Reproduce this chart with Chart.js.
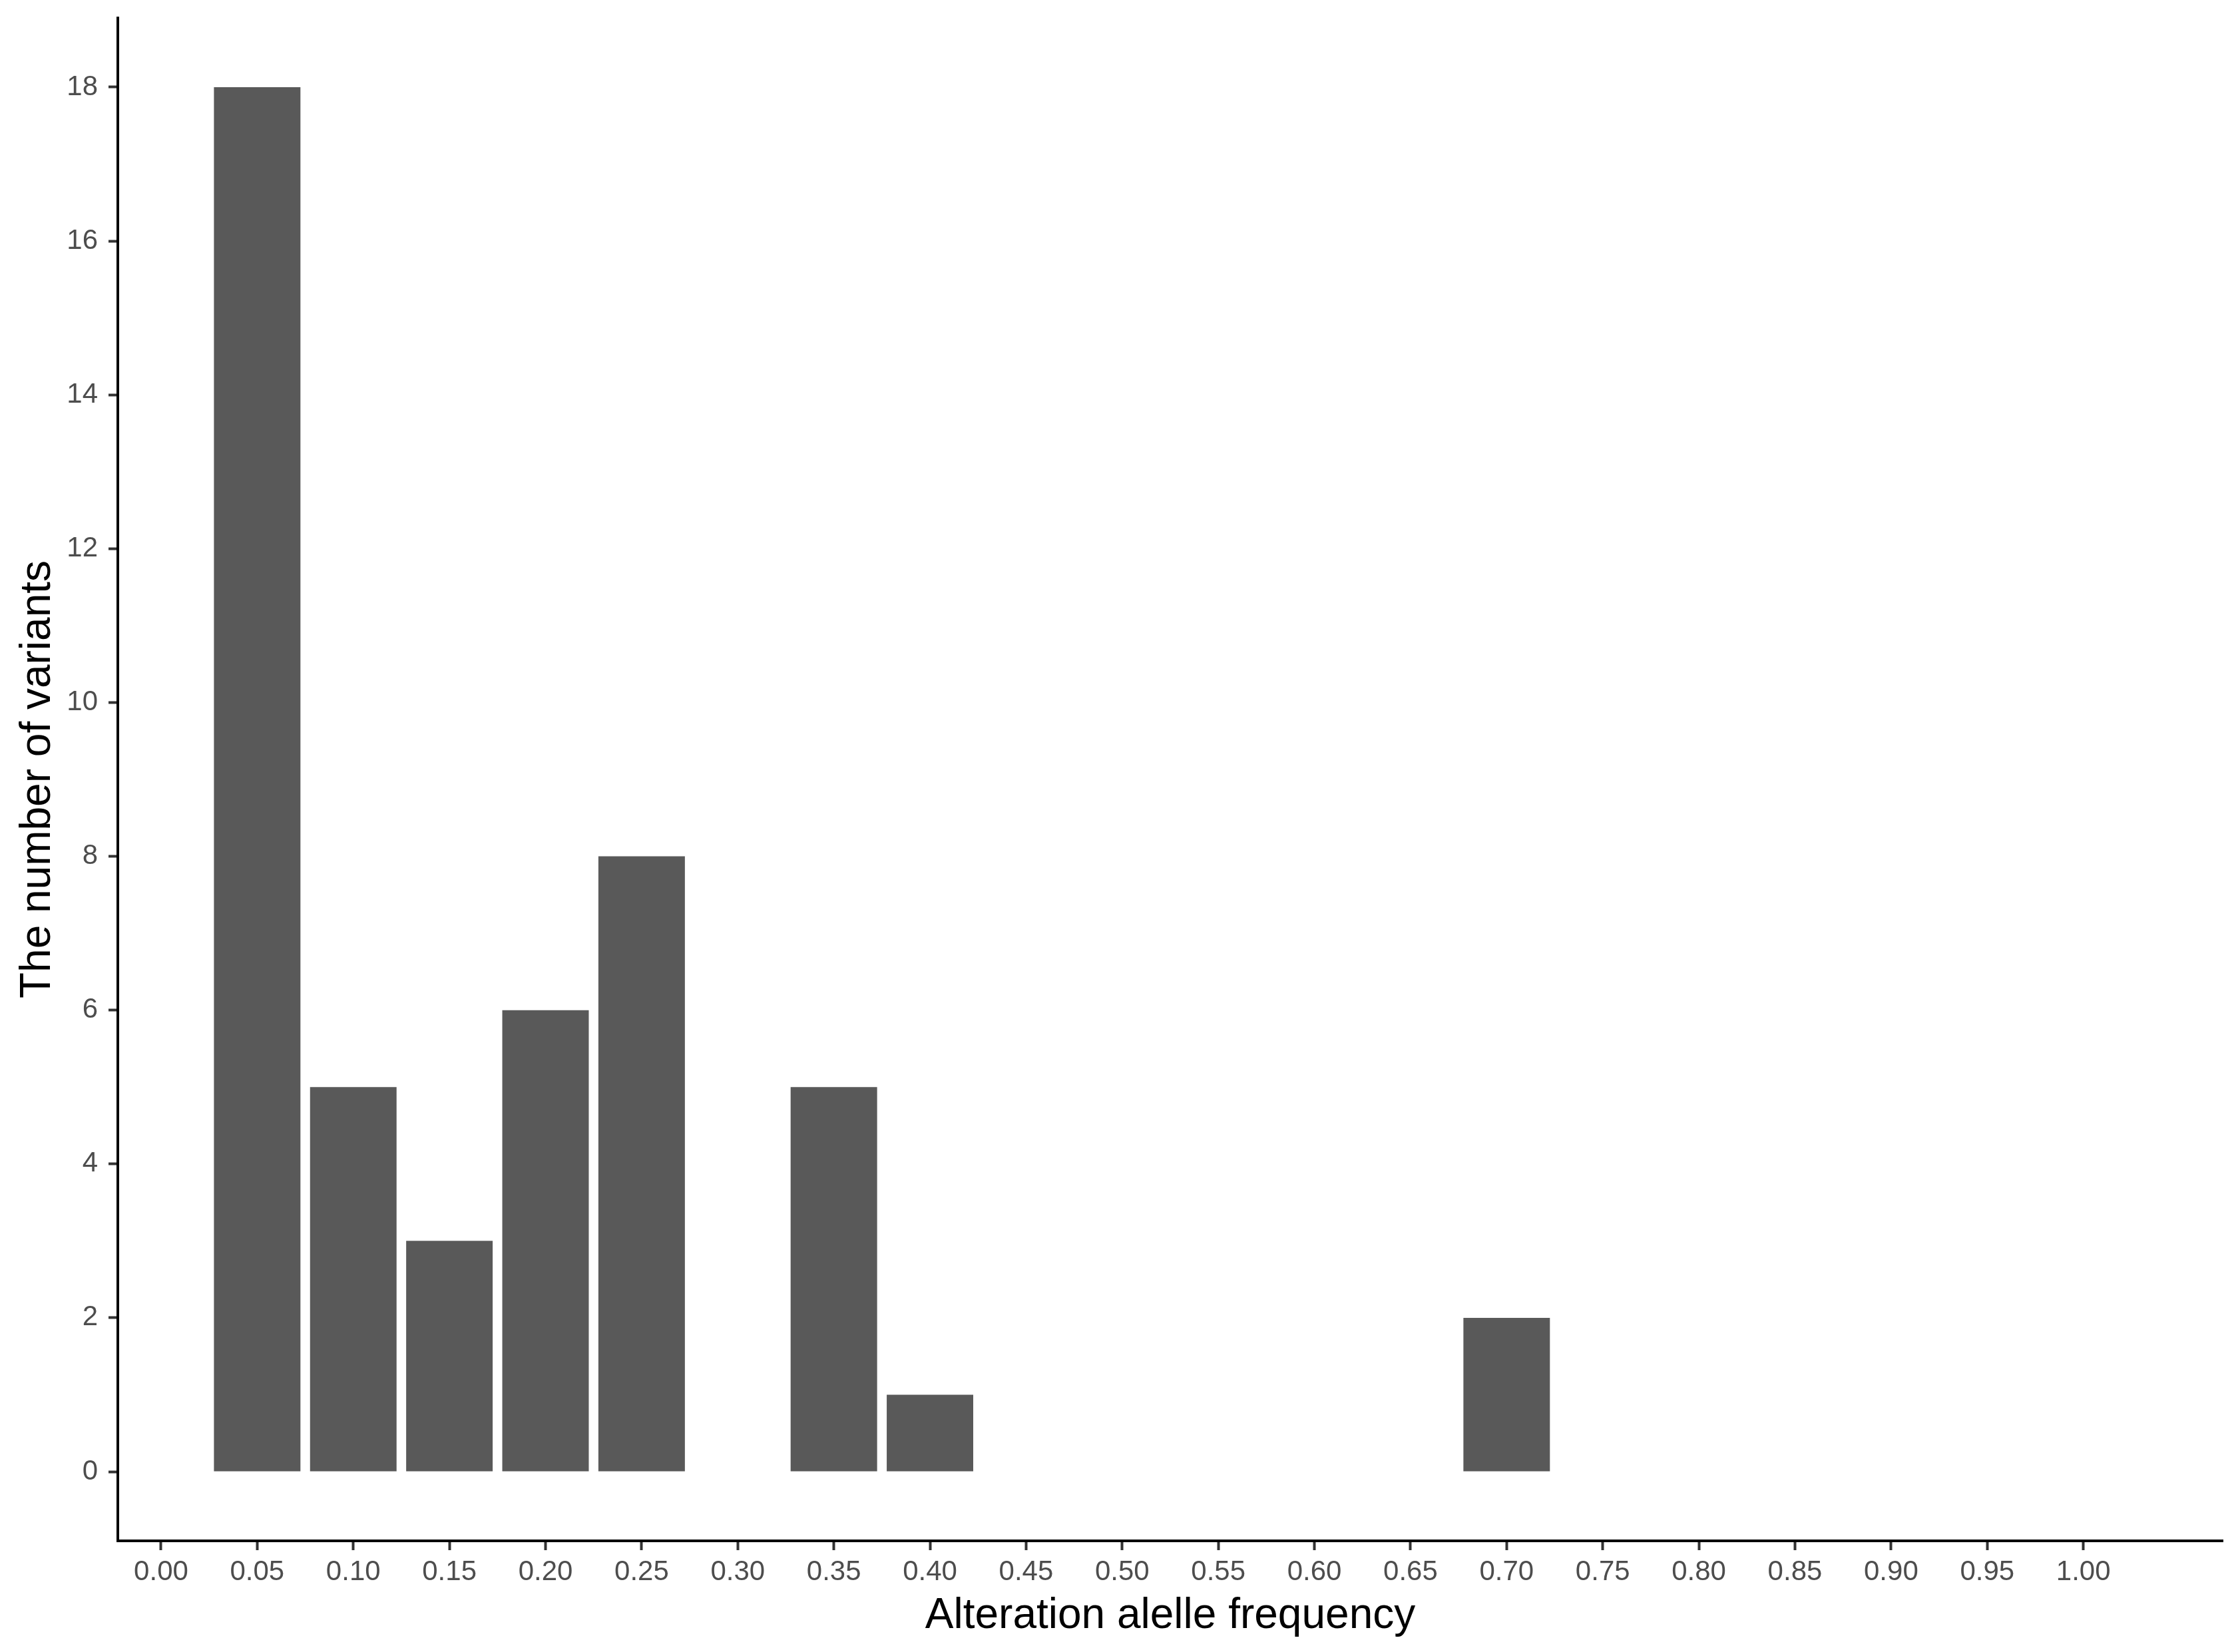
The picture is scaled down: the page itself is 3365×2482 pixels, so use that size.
<!DOCTYPE html>
<html>
<head>
<meta charset="utf-8">
<script src="https://cdn.jsdelivr.net/npm/chart.js@4.4.1/dist/chart.umd.min.js"></script>
<style>
  html, body { margin: 0; padding: 0; background: #fff; }
  #wrap { width: 3365px; height: 2482px; }
</style>
</head>
<body>
<div id="wrap"><canvas id="myChart"></canvas></div>
<script>
// allele frequency bins (bar centres) and counts
const frequencies = [0.05, 0.10, 0.15, 0.20, 0.25, 0.35, 0.40, 0.70];
const counts = [18, 5, 3, 6, 8, 5, 1, 2];
const xTicks = [0, 0.05, 0.1, 0.15, 0.2, 0.25, 0.3, 0.35, 0.4, 0.45, 0.5,
  0.55, 0.6, 0.65, 0.7, 0.75, 0.8, 0.85, 0.9, 0.95, 1];
const yTicks = [0, 2, 4, 6, 8, 10, 12, 14, 16, 18];

const colors = {
  bar: "#595959",
  axis: "#000000",
  tick: "#333333",
  label: "#4d4d4d",
};
const family = "'Liberation Sans', Arial, sans-serif";

const ctx = document.getElementById("myChart");

new Chart(ctx, {
  type: "bar",
  data: {
    datasets: [
      {
        data: frequencies.map((f, i) => ({ x: f, y: counts[i] })),
        backgroundColor: colors.bar,
        borderWidth: 0,
        barPercentage: 0.9,
        categoryPercentage: 1,
      },
    ],
  },
  options: {
    responsive: true,
    maintainAspectRatio: false,
    devicePixelRatio: 1,
    animation: false,
    layout: {
      padding: { top: 27, right: 26, left: 0, bottom: 0 },
    },
    plugins: {
      legend: { display: false },
      tooltip: { enabled: false },
    },
    scales: {
      x: {
        type: "linear",
        min: -0.0225,
        max: 1.0725,
        offset: false,
        afterBuildTicks: (scale) => {
          scale.ticks = xTicks.map((v) => ({ value: v }));
        },
        afterFit: (scale) => {
          scale.height = 167;
          scale.paddingLeft = 0;
          scale.paddingRight = 0;
        },
        grid: {
          offset: false,
          drawOnChartArea: false,
          drawTicks: true,
          tickLength: 14,
          tickColor: colors.tick,
          tickWidth: 4,
        },
        border: {
          display: true,
          color: colors.axis,
          width: 4,
        },
        ticks: {
          autoSkip: false,
          maxRotation: 0,
          padding: 8,
          color: colors.label,
          font: { family, size: 42 },
          callback: (v) => Number(v).toFixed(2),
        },
        title: {
          display: true,
          text: "Alteration alelle frequency",
          color: "#000",
          font: { family, size: 64 },
          padding: { top: 0, bottom: 15 },
        },
      },
      y: {
        min: -0.9,
        max: 18.9,
        afterBuildTicks: (scale) => {
          scale.ticks = yTicks.map((v) => ({ value: v }));
        },
        afterFit: (scale) => {
          scale.width = 177;
          scale.paddingTop = 0;
          scale.paddingBottom = 0;
        },
        grid: {
          drawOnChartArea: false,
          drawTicks: true,
          tickLength: 14,
          tickColor: colors.tick,
          tickWidth: 4,
        },
        border: {
          display: true,
          color: colors.axis,
          width: 4,
        },
        ticks: {
          padding: 16,
          color: colors.label,
          font: { family, size: 42 },
        },
        title: {
          display: true,
          text: "The number of variants",
          color: "#000",
          font: { family, size: 64 },
          padding: { top: 19, bottom: 0 },
        },
      },
    },
  },
});
</script>
</body>
</html>
